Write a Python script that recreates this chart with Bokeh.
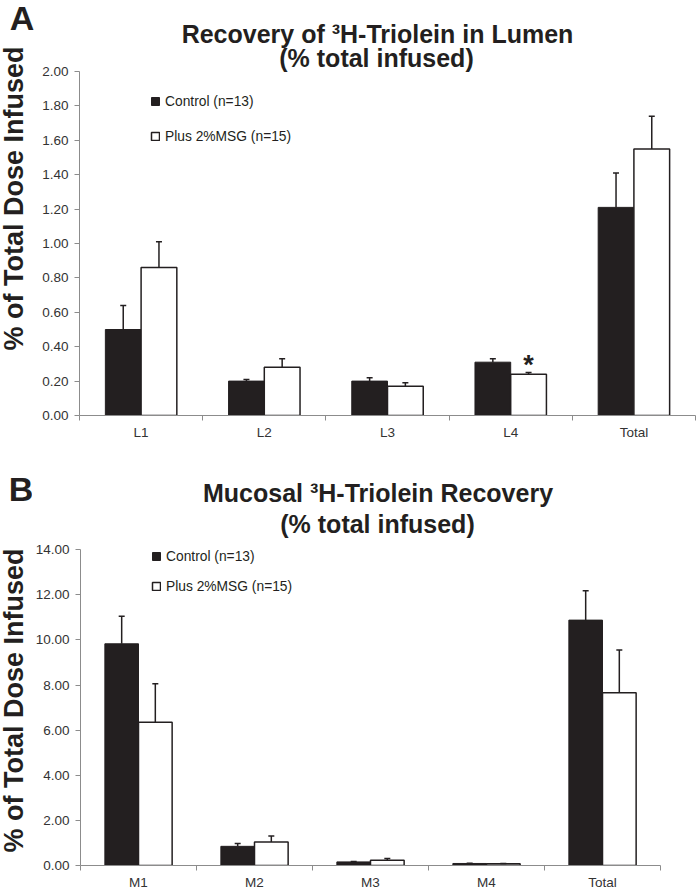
import math
from bokeh.plotting import figure
from bokeh.models import (ColumnDataSource, Range1d, FixedTicker, LinearAxis, Whisker, TeeHead,
                          Label, Legend, LegendItem, NumeralTickFormatter)
from bokeh.layouts import column, row
from bokeh.embed import file_html
from bokeh.resources import INLINE

# ---------------- data ----------------
lumen_cats = ["L1", "L2", "L3", "L4", "Total"]
lumen_control = [0.50, 0.20, 0.20, 0.31, 1.21]
lumen_control_err = [0.14, 0.01, 0.02, 0.02, 0.20]
lumen_msg = [0.86, 0.28, 0.17, 0.24, 1.55]
lumen_msg_err = [0.15, 0.05, 0.02, 0.01, 0.19]
lumen_yticks = [0.0, 0.2, 0.4, 0.6, 0.8, 1.0, 1.2, 1.4, 1.6, 1.8, 2.0]

mucosa_cats = ["M1", "M2", "M3", "M4", "Total"]
mucosa_control = [9.83, 0.85, 0.16, 0.09, 10.88]
mucosa_control_err = [1.22, 0.12, 0.02, 0.01, 1.30]
mucosa_msg = [6.35, 1.04, 0.23, 0.08, 7.66]
mucosa_msg_err = [1.71, 0.27, 0.08, 0.01, 1.90]
mucosa_yticks = [0.0, 2.0, 4.0, 6.0, 8.0, 10.0, 12.0, 14.0]

series_labels = ["Control (n=13)", "Plus 2%MSG (n=15)"]
y_title = "% of Total Dose Infused"

FONT = "Liberation Sans"
DARK = "#231f20"
AXIS = "#8c8c8c"
TXT = "#333333"


def side_figure(letter, width, height, letter_pos, ylab_pos):
    """Narrow strip left of the axis carrying the panel letter and the y title."""
    s = figure(width=width, height=height, x_range=Range1d(0, 1), y_range=Range1d(0, 1),
               output_backend="svg", toolbar_location=None,
               x_axis_location=None, y_axis_location=None,
               min_border=0, min_border_left=0, min_border_right=0,
               min_border_top=0, min_border_bottom=0)
    s.outline_line_color = None
    s.grid.visible = False
    s.add_layout(Label(x=letter_pos[0], y=letter_pos[1], x_units="screen", y_units="screen",
                       text=letter, text_font=FONT, text_font_size="34px",
                       text_font_style="bold", text_color=DARK,
                       text_align="center", text_baseline="middle"))
    s.add_layout(Label(x=ylab_pos[0], y=ylab_pos[1], x_units="screen", y_units="screen",
                       text=y_title, text_font=FONT, text_font_size="27px",
                       text_font_style="bold", text_color=DARK, angle=math.pi / 2,
                       text_align="center", text_baseline="middle"))
    return s


def make_panel(title1, title2, cats, ctrl, ctrl_err, msg, msg_err, yticks,
               width, height, b_left, b_bottom, b_right, frame_h, data_px,
               t1_pos, t2_pos, legend_pos, legend_spacing, star_index=None):
    n = len(cats)
    bar_w = 0.29
    centers = [i + 0.5 for i in range(n)]
    ctrl_src = ColumnDataSource(dict(
        cat=cats, x=[c - bar_w / 2 for c in centers], value=ctrl,
        upper=[v + e for v, e in zip(ctrl, ctrl_err)]))
    msg_src = ColumnDataSource(dict(
        cat=cats, x=[c + bar_w / 2 for c in centers], value=msg,
        upper=[v + e for v, e in zip(msg, msg_err)]))

    # frame reaches the top of the panel; the axis itself is bounded to the ticks
    y_end = yticks[-1] * frame_h / data_px
    p = figure(width=width, height=height, x_range=Range1d(0, n),
               y_range=Range1d(yticks[0], y_end),
               output_backend="svg", toolbar_location=None,
               x_axis_location=None, y_axis_location=None,
               min_border_left=b_left, min_border_right=b_right,
               min_border_top=0, min_border_bottom=b_bottom)
    p.outline_line_color = None
    p.grid.visible = False

    xaxis = LinearAxis(
        ticker=FixedTicker(ticks=centers, minor_ticks=list(range(n + 1))),
        major_label_overrides={c: cat for c, cat in zip(centers, cats)},
        major_tick_out=0, major_tick_in=0, minor_tick_out=5, minor_tick_in=0,
        minor_tick_line_color=AXIS, axis_line_color=AXIS, axis_line_width=1,
        major_label_text_font=FONT, major_label_text_font_size="13.5px",
        major_label_text_color=TXT, major_label_standoff=4)
    p.add_layout(xaxis, "below")

    yaxis = LinearAxis(
        ticker=FixedTicker(ticks=yticks, minor_ticks=[]),
        formatter=NumeralTickFormatter(format="0.00"),
        bounds=(yticks[0], yticks[-1]),
        major_tick_out=5, major_tick_in=0, minor_tick_out=0, minor_tick_in=0,
        major_tick_line_color=AXIS, axis_line_color=AXIS, axis_line_width=1,
        major_label_text_font=FONT, major_label_text_font_size="13.5px",
        major_label_text_color=TXT, major_label_standoff=6)
    p.add_layout(yaxis, "left")

    r1 = p.vbar(x="x", top="value", bottom=0, width=bar_w, source=ctrl_src,
                fill_color=DARK, line_color=DARK, line_width=1)
    r2 = p.vbar(x="x", top="value", bottom=0, width=bar_w, source=msg_src,
                fill_color="white", line_color=DARK, line_width=1.5)

    for src in (ctrl_src, msg_src):
        w = Whisker(source=src, base="x", lower="value", upper="upper",
                    dimension="height", line_color=DARK, line_width=1.5,
                    upper_head=TeeHead(size=6, line_color=DARK, line_width=1.5),
                    lower_head=None, level="glyph")
        p.add_layout(w)

    legend = Legend(items=[LegendItem(label=series_labels[0], renderers=[r1]),
                           LegendItem(label=series_labels[1], renderers=[r2])],
                    location=legend_pos, orientation="vertical",
                    glyph_width=10, glyph_height=10, label_height=16,
                    label_standoff=5, spacing=legend_spacing, padding=0, margin=0,
                    border_line_color=None, background_fill_alpha=0,
                    label_text_font=FONT, label_text_font_size="13.8px",
                    label_text_color=DARK)
    p.add_layout(legend)

    for text, pos in ((title1, t1_pos), (title2, t2_pos)):
        p.add_layout(Label(x=pos[0], y=pos[1], x_units="screen", y_units="screen",
                           text=text, text_font=FONT, text_font_size="25px",
                           text_font_style="bold", text_color=DARK,
                           text_align="center", text_baseline="middle"))

    if star_index is not None:
        p.add_layout(Label(x=msg_src.data["x"][star_index],
                           y=msg_src.data["upper"][star_index],
                           x_units="data", y_units="data", y_offset=8,
                           text="*", text_font=FONT, text_font_size="27px",
                           text_font_style="bold", text_color=DARK,
                           text_align="center", text_baseline="alphabetic"))
    return p


# ---------------- panel A ----------------
sA = side_figure("A", 38, 444, letter_pos=(21.5, 397.5), ylab_pos=(13, 217))
pA = make_panel("Recovery of \u00b3H-Triolein in Lumen", "(% total infused)",
                lumen_cats, lumen_control, lumen_control_err, lumen_msg, lumen_msg_err,
                lumen_yticks, width=658, height=444, b_left=41, b_bottom=29, b_right=1,
                frame_h=415, data_px=344,
                t1_pos=(298, 382), t2_pos=(297, 358),
                legend_pos=(71, 271), legend_spacing=19, star_index=3)

# ---------------- panel B ----------------
sB = side_figure("B", 32, 448, letter_pos=(20.5, 377), ylab_pos=(13, 165))
pB = make_panel("Mucosal \u00b3H-Triolein Recovery", "(% total infused)",
                mucosa_cats, mucosa_control, mucosa_control_err, mucosa_msg, mucosa_msg_err,
                mucosa_yticks, width=664, height=448, b_left=47, b_bottom=26, b_right=36,
                frame_h=422, data_px=316.5,
                t1_pos=(297.5, 373), t2_pos=(297, 342),
                legend_pos=(71, 271), legend_spacing=14)

layout = column(row(sA, pA, spacing=0), row(sB, pB, spacing=0), spacing=0)
open("out.html", "w").write(file_html(layout, INLINE))
